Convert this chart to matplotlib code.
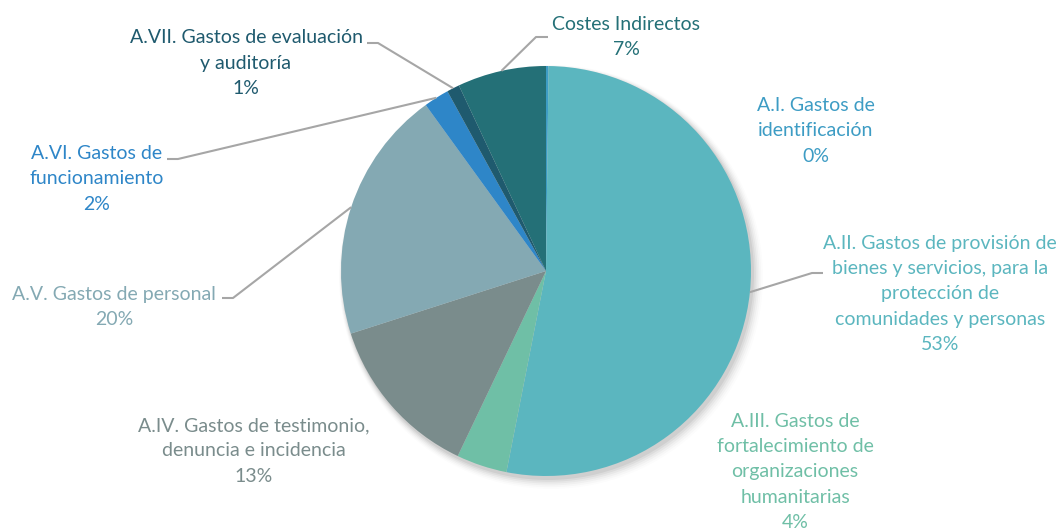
import numpy as np
import matplotlib
matplotlib.use("Agg")
import matplotlib.pyplot as plt
from matplotlib.patches import Circle

# ---- data ----
categories = [
    "A.I. Gastos de\nidentificación",
    "A.II. Gastos de provisión de\nbienes y servicios, para la\nprotección de\ncomunidades y personas",
    "A.III. Gastos de\nfortalecimiento de\norganizaciones\nhumanitarias",
    "A.IV. Gastos de testimonio,\ndenuncia e incidencia",
    "A.V. Gastos de personal",
    "A.VI. Gastos de\nfuncionamiento",
    "A.VII. Gastos de evaluación\ny auditoría",
    "Costes Indirectos",
]
values = [0.2, 53, 4, 13, 20, 2, 1, 7]
pct_labels = ["0%", "53%", "4%", "13%", "20%", "2%", "1%", "7%"]
colors = ["#3d9cc4", "#5bb6bf", "#6fbfa6", "#7a8c8c", "#84a9b3", "#2e86c8", "#1f5a6e", "#247077"]

# ---- layout (pixel coordinates, y measured from top) ----
W, H = 1058, 531
cx, cy, R = 546, 271, 205
label_pos = [(816, 131), (940, 294), (795, 472), (254, 451), (114, 307), (97, 179), (246, 63), (626, 37)]
# leader: (elbow, end) or None
leaders = [None, ((812, 273), (823, 273)), None, None,
           ((233, 298), (222, 298)), ((178, 159), (167, 159)),
           ((378, 43), (367, 43)), ((536, 37), (548, 37))]

plt.rcParams['font.family'] = ['Lato', 'DejaVu Sans']
fig = plt.figure(figsize=(W / 100, H / 100), dpi=100)
ax = fig.add_axes([0, 0, 1, 1])

def fy(y):
    return H - y

# soft shadow
for i, a in enumerate(np.linspace(0.05, 0.012, 6)):
    ax.add_patch(Circle((cx + 2 + i * 0.6, fy(cy) - 3 - i * 0.6), R + 1 + i * 1.2,
                        facecolor="black", alpha=a, edgecolor="none", zorder=1))

wedges, _ = ax.pie(values, colors=colors, startangle=90, counterclock=False,
                   center=(cx, fy(cy)), radius=R, frame=True,
                   wedgeprops=dict(linewidth=0, zorder=2))
for w in wedges:
    w.set_zorder(2)

for i, w in enumerate(wedges):
    mid = np.deg2rad((w.theta1 + w.theta2) / 2)
    px = cx + R * np.cos(mid)
    py = fy(cy) + R * np.sin(mid)
    lx, ly = label_pos[i]
    ax.text(lx, fy(ly), categories[i] + "\n" + pct_labels[i], ha="center", va="center",
            color=colors[i], fontsize=14, linespacing=1.6, zorder=5)
    if leaders[i] is not None:
        (ex, ey), (tx, ty) = leaders[i]
        ax.plot([px, ex, tx], [py, fy(ey), fy(ty)], color="#a6a6a6", lw=1.5,
                solid_capstyle="butt", zorder=3)

ax.set_xlim(0, W)
ax.set_ylim(0, H)
ax.set_aspect("equal")
ax.axis("off")
fig.savefig("out.png", dpi=100, facecolor="white")
